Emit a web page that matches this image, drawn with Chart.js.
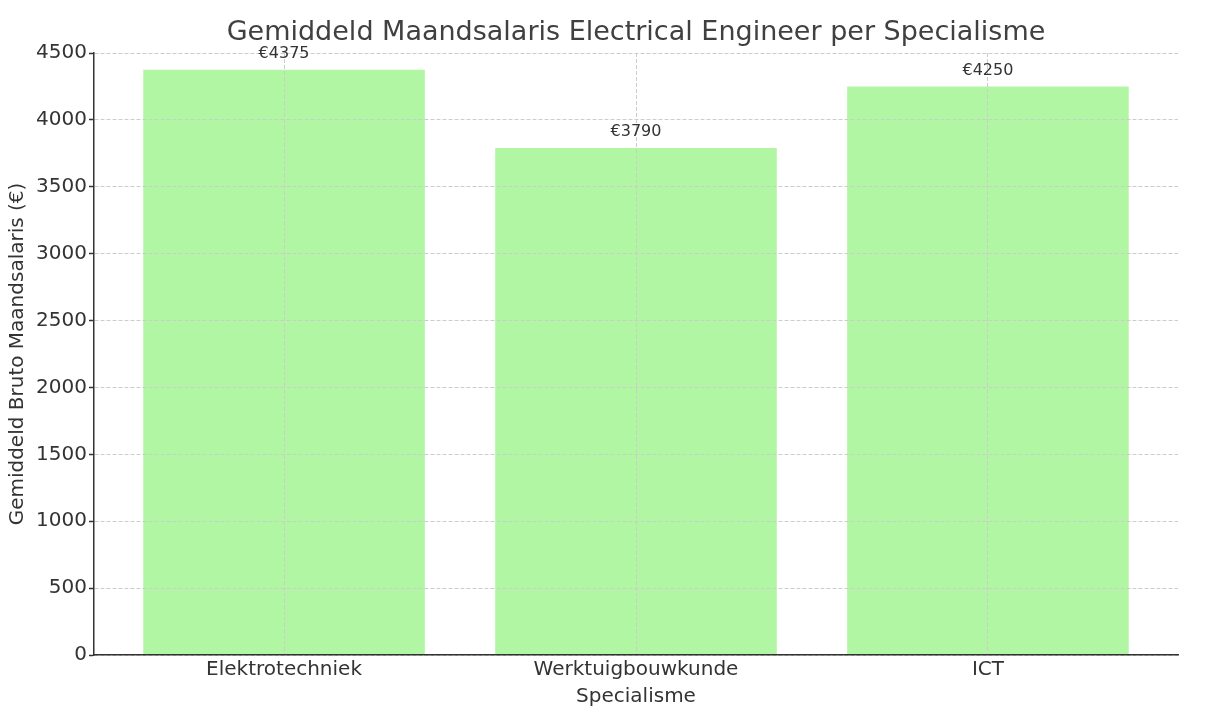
<!DOCTYPE html>
<html lang="nl">
<head>
<meta charset="utf-8">
<title>Gemiddeld Maandsalaris Electrical Engineer per Specialisme</title>
<script src="https://cdn.jsdelivr.net/npm/chart.js@4"></script>
<style>
    html, body { margin: 0; padding: 0; background: #fff; }
    #wrap { width: 1210px; height: 718px; }
</style>
</head>
<body>
<div id="wrap"><canvas id="salarisChart" width="1210" height="718"></canvas></div>
<script>
// Gegevens uit de grafiek
const specialismen = ['Elektrotechniek', 'Werktuigbouwkunde', 'ICT'];
const salarissen = [4375, 3790, 4250];
const yTicks = [0, 500, 1000, 1500, 2000, 2500, 3000, 3500, 4000, 4500];

const tekstKleur = '#333333';
const fontFam = "'DejaVu Sans', sans-serif";

// Labels boven de staven (€-bedrag)
const waardeLabels = {
    id: 'waardeLabels',
    afterDraw(chart) {
        const ctx = chart.ctx;
        const meta = chart.getDatasetMeta(0);
        ctx.save();
        ctx.font = '16px ' + fontFam;
        ctx.fillStyle = tekstKleur;
        ctx.textAlign = 'center';
        ctx.textBaseline = 'middle';
        meta.data.forEach(function(bar, i) {
            ctx.fillText('€' + salarissen[i], bar.x, bar.y - 16);
        });
        ctx.restore();
    }
};

document.addEventListener('DOMContentLoaded', function() {
    const ctx = document.getElementById('salarisChart').getContext('2d');

    new Chart(ctx, {
        type: 'bar',
        data: {
            datasets: [{
                data: specialismen.map((s, i) => ({ x: i, y: salarissen[i] })),
                backgroundColor: '#b1f6a3',
                borderWidth: 0,
                categoryPercentage: 1,
                barPercentage: 0.8
            }]
        },
        options: {
            responsive: false,
            animation: false,
            layout: { padding: { left: 0, right: 32, top: 0, bottom: 0 } },
            plugins: {
                legend: { display: false },
                tooltip: { enabled: false },
                title: {
                    display: true,
                    text: 'Gemiddeld Maandsalaris Electrical Engineer per Specialisme',
                    fullSize: false,
                    color: '#404040',
                    font: { family: fontFam, size: 27, weight: 'normal' },
                    padding: { top: 17, bottom: 3.6 }
                }
            },
            scales: {
                x: {
                    type: 'linear',
                    min: -0.54,
                    max: 2.54,
                    offset: false,
                    afterBuildTicks: function(scale) {
                        scale.ticks = specialismen.map((s, i) => ({ value: i }));
                    },
                    afterFit: function(scale) { scale.height = 63; },
                    ticks: {
                        color: tekstKleur,
                        font: { family: fontFam, size: 20 },
                        padding: 3,
                        maxRotation: 0,
                        autoSkip: false,
                        callback: function(v) { return specialismen[v]; }
                    },
                    grid: {
                        offset: false,
                        color: '#cccccc',
                        lineWidth: 1,
                        drawTicks: false,
                        z: 1
                    },
                    border: { display: true, color: '#333333', width: 1.5, dash: [4, 2], z: 2 },
                    title: {
                        display: true,
                        text: 'Specialisme',
                        color: tekstKleur,
                        font: { family: fontFam, size: 20 },
                        padding: { top: 2, bottom: 9 }
                    }
                },
                y: {
                    min: 0,
                    max: 4500,
                    afterBuildTicks: function(scale) {
                        scale.ticks = yTicks.map(v => ({ value: v }));
                    },
                    afterFit: function(scale) { scale.width = 94; },
                    ticks: {
                        color: tekstKleur,
                        font: { family: fontFam, size: 20 },
                        padding: 2,
                        callback: function(v) { return String(v); }
                    },
                    grid: {
                        color: '#cccccc',
                        lineWidth: 1,
                        tickLength: 5,
                        tickColor: '#333333',
                        tickWidth: 1.5,
                        z: 1
                    },
                    border: { display: true, color: '#333333', width: 1.5, dash: [4, 2], z: 2 },
                    title: {
                        display: true,
                        text: 'Gemiddeld Bruto Maandsalaris (€)',
                        color: tekstKleur,
                        font: { family: fontFam, size: 20 },
                        padding: { top: 6, bottom: 0 }
                    }
                }
            }
        },
        plugins: [waardeLabels]
    });
});
</script>
</body>
</html>
